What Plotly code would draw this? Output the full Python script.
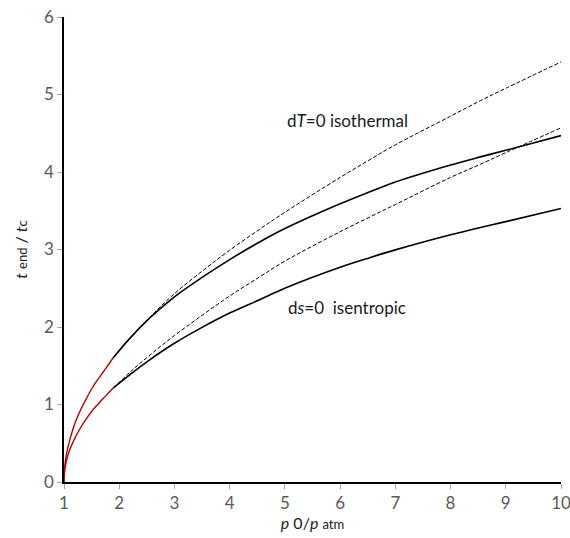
import plotly.graph_objects as go

# Red initial segments (p0/patm from 1 to ~1.89)
x_red = [1.0, 1.005, 1.02, 1.05, 1.1, 1.2, 1.3, 1.4, 1.5, 1.6, 1.7, 1.8, 1.888]
iso_red = [0.0, 0.12, 0.24, 0.38, 0.53, 0.76, 0.93, 1.07, 1.20, 1.31, 1.41, 1.51, 1.60]
isen_red = [0.0, 0.09, 0.18, 0.29, 0.41, 0.57, 0.70, 0.81, 0.91, 0.99, 1.07, 1.145, 1.21]

# Black segments
x_blk = [1.888, 2.2, 2.558, 3, 3.5, 4, 4.55, 5, 6, 6.54, 7, 8, 8.54, 9, 10]
iso_solid = [1.60, 1.86, 2.12, 2.39, 2.64, 2.87, 3.10, 3.27, 3.59, 3.745, 3.87, 4.09, 4.195, 4.28, 4.47]
iso_dash = [1.60, 1.86, 2.13, 2.43, 2.72, 2.99, 3.265, 3.48, 3.93, 4.16, 4.35, 4.72, 4.92, 5.08, 5.42]
isen_solid = [1.21, 1.39, 1.58, 1.79, 1.995, 2.18, 2.355, 2.50, 2.77, 2.895, 2.995, 3.19, 3.285, 3.36, 3.53]
isen_dash = [1.21, 1.42, 1.64, 1.89, 2.15, 2.40, 2.65, 2.85, 3.23, 3.42, 3.58, 3.93, 4.10, 4.25, 4.57]

x_ticks = [1, 2, 3, 4, 5, 6, 7, 8, 9, 10]
y_ticks = [0, 1, 2, 3, 4, 5, 6]

FONT = "Lato, 'Open Sans', sans-serif"

fig = go.Figure()
for y in (iso_dash, isen_dash):
    fig.add_trace(go.Scatter(x=x_blk, y=y, mode="lines", line=dict(color="black", width=1, dash="4px,2px", shape="spline", smoothing=1.0), showlegend=False))
for y in (iso_solid, isen_solid):
    fig.add_trace(go.Scatter(x=x_blk, y=y, mode="lines", line=dict(color="black", width=1.6, shape="spline", smoothing=1.0), showlegend=False))
for y in (iso_red, isen_red):
    fig.add_trace(go.Scatter(x=x_red, y=y, mode="lines", line=dict(color="#C00000", width=1.4, shape="spline", smoothing=1.0), showlegend=False))

fig.add_annotation(x=6.13, y=4.67, text="d<i>T</i>=0 isothermal", showarrow=False,
                   font=dict(family=FONT, size=17, color="#1a1a1a"))
fig.add_annotation(x=6.13, y=2.25, text="d<i>s</i>=0  isentropic", showarrow=False,
                   font=dict(family=FONT, size=17, color="#1a1a1a"))

fig.update_layout(
    width=570, height=538,
    margin=dict(l=64, r=9, t=17, b=56),
    paper_bgcolor="white", plot_bgcolor="white",
    font=dict(family=FONT, size=17, color="#595959"),
    xaxis=dict(range=[1, 10], tickvals=x_ticks, showgrid=False, zeroline=False,
               showline=True, linecolor="black", linewidth=1.5, automargin=False,
               ticks="outside", ticklen=5, tickcolor="#a6a6a6", tickwidth=1,
               ticklabeloverflow="allow",
               tickfont=dict(size=17, color="#595959"),
               title=dict(text="<i>p</i> 0/<i>p</i> <span style='font-size:13px'>atm</span>",
                          font=dict(size=16, color="#1a1a1a"), standoff=2)),
    yaxis=dict(range=[0, 6], tickvals=y_ticks, showgrid=False, zeroline=False,
               showline=True, linecolor="black", linewidth=1.5, automargin=False,
               ticks="outside", ticklen=5, tickcolor="#a6a6a6", tickwidth=1,
               ticklabeloverflow="allow",
               tickfont=dict(size=17, color="#595959"),
               title=dict(text="<i>t</i> <span style='font-size:13px'>end</span> / <i>t</i><span style='font-size:13px'>c</span>",
                          font=dict(size=16, color="#1a1a1a"), standoff=12)),
)

fig.write_html("out.html", config={"displayModeBar": False},
               post_script="document.body.style.margin='0';document.body.style.overflow='hidden';")
